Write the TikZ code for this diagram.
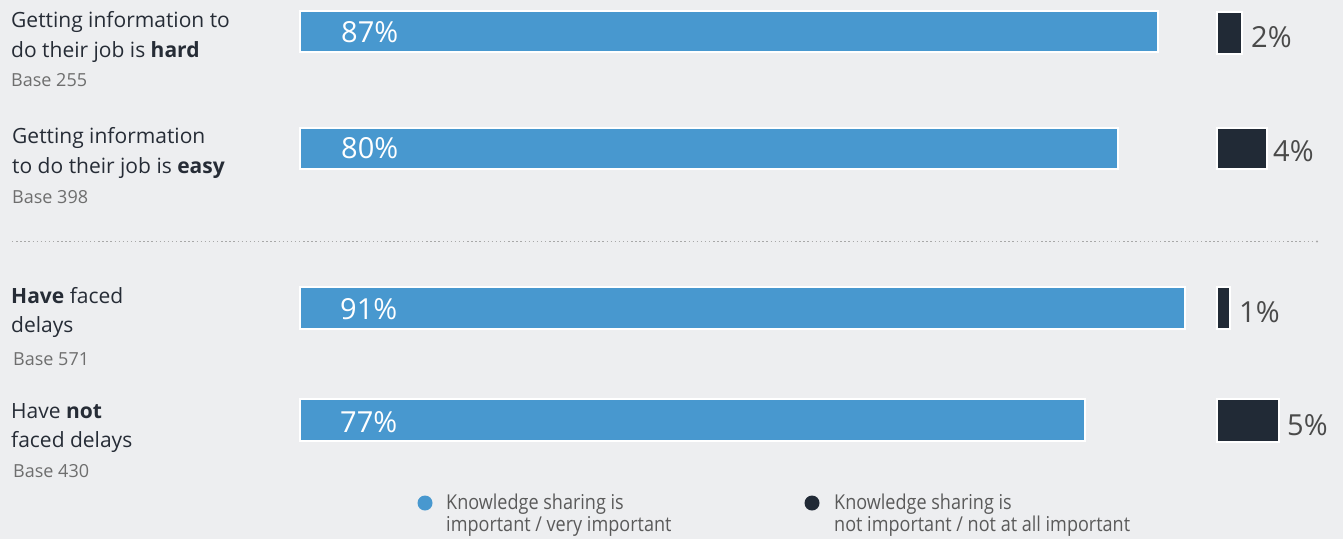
\documentclass[tikz,border=0pt]{standalone}
\usepackage{fontspec}
\setmainfont{Open Sans}
\newfontfamily\narrowfont[FakeStretch=0.88]{Open Sans}
\definecolor{bg}{HTML}{EDEEF0}
\definecolor{barblue}{HTML}{4898CF}
\definecolor{bardark}{HTML}{212A36}
\definecolor{txtdark}{HTML}{262C36}
\definecolor{txtgray}{HTML}{6E6E6E}
\definecolor{pctgray}{HTML}{4A4A4A}
\definecolor{leggray}{HTML}{5A5A5A}
\definecolor{dotgray}{HTML}{A8A8A8}
\tikzset{
  bluebar/.style={fill=barblue, draw=white, line width=2pt},
  darkbar/.style={fill=bardark, draw=white, line width=2pt},
  lab/.style={anchor=base west, inner sep=0pt, text=txtdark, font=\fontsize{21}{24}\selectfont},
  basetxt/.style={anchor=base west, inner sep=0pt, text=txtgray, font=\fontsize{18}{20}\selectfont},
  inpct/.style={anchor=base west, inner sep=0pt, text=white, font=\fontsize{29}{32}\selectfont},
  outpct/.style={anchor=base west, inner sep=0pt, text=pctgray, font=\fontsize{29}{32}\selectfont},
  legtxt/.style={anchor=base west, inner sep=0pt, text=leggray, font=\narrowfont\fontsize{20.5}{22}\selectfont},
}
\begin{document}
\begin{tikzpicture}[x=1pt, y=-1pt]
\fill[bg] (0,0) rectangle (1343,539);
\useasboundingbox (0,0) rectangle (1343,539);

% left labels
\node[lab] (l1a) at (11,27) {Getting information to};
\node[lab] (l1b) at (11,57) {do their job is \textbf{hard}};
\node[basetxt] (l1c) at (11,86) {Base 255};
\node[lab] (l2a) at (12,143) {Getting information};
\node[lab] (l2b) at (12,173) {to do their job is \textbf{easy}};
\node[basetxt] (l2c) at (12,203) {Base 398};
\node[lab] (l3a) at (11,303) {\textbf{Have} faced};
\node[lab] (l3b) at (11,332) {delays};
\node[basetxt] (l3c) at (13,365) {Base 571};
\node[lab] (l4a) at (11,418) {Have \textbf{not}};
\node[lab] (l4b) at (11,447) {faced delays};
\node[basetxt] (l4c) at (13,477) {Base 430};

% blue bars
\draw[bluebar] (300,11) rectangle (1158,52);
\draw[bluebar] (300,128) rectangle (1118,169);
\draw[bluebar] (300,287) rectangle (1185,329);
\draw[bluebar] (300,399) rectangle (1085,441);
\node[inpct] (p1) at (341,42) {87\%};
\node[inpct] (p2) at (341,158) {80\%};
\node[inpct] (p3) at (340,319) {91\%};
\node[inpct] (p4) at (340,432) {77\%};

% dark bars
\draw[darkbar] (1217,12) rectangle (1242,54);
\draw[darkbar] (1217,128) rectangle (1267,169);
\draw[darkbar] (1217,287) rectangle (1230,329);
\draw[darkbar] (1217,399) rectangle (1279,442);
\node[outpct] (q1) at (1251,47) {2\%};
\node[outpct] (q2) at (1273,161) {4\%};
\node[outpct] (q3) at (1239,322) {1\%};
\node[outpct] (q4) at (1287,435) {5\%};

% dotted separator
\draw[dotgray, line width=1.4pt, dash pattern=on 1.4pt off 2.7pt] (12,241.5) -- (1312,241.5);
\fill[dotgray] (1317,241.5) circle (1.2);

% legend
\fill[barblue] (425,503) circle (7.5);
\node[legtxt] (g1a) at (446,509) {Knowledge sharing is};
\node[legtxt] (g1b) at (446,531) {important / very important};
\fill[bardark] (812,503) circle (7.5);
\node[legtxt] (g2a) at (834,509) {Knowledge sharing is};
\node[legtxt] (g2b) at (834,531) {not important / not at all important};
\end{tikzpicture}
\end{document}
